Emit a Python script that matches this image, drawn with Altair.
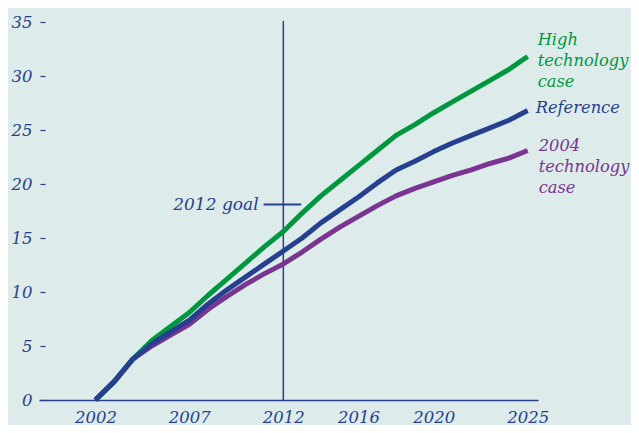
import altair as alt
import pandas as pd

years = list(range(2002, 2026))
high_tech = [0, 1.7, 3.8, 5.5, 6.8, 8.1, 9.7, 11.2, 12.7, 14.2, 15.6, 17.3, 18.9, 20.3, 21.7, 23.1, 24.5, 25.5, 26.6, 27.6, 28.6, 29.6, 30.6, 31.8]
reference = [0, 1.7, 3.8, 5.2, 6.3, 7.4, 8.9, 10.2, 11.4, 12.6, 13.8, 15.0, 16.4, 17.6, 18.8, 20.1, 21.3, 22.1, 23.0, 23.8, 24.5, 25.2, 25.9, 26.8]
tech2004 = [0, 1.7, 3.8, 5.0, 6.0, 7.0, 8.4, 9.6, 10.7, 11.7, 12.6, 13.7, 14.9, 16.0, 17.0, 18.0, 18.9, 19.6, 20.2, 20.8, 21.3, 21.9, 22.4, 23.1]
series_names = ["2004 technology case", "High technology case", "Reference"]
series_colors = ["#7a3492", "#00973f", "#263f8f"]
tick_years = [2002, 2007, 2012, 2016, 2020, 2025]
y_ticks = [0, 5, 10, 15, 20, 25, 30, 35]
goal_year = 2012
goal_value = 18.1
goal_label = "2012 goal"

BG = "#ddeceb"
TXT = "#263f8f"
FONT = "DejaVu Serif"

rows = []
for name, vals in zip(series_names, [tech2004, high_tech, reference]):
    for yr, v in zip(years, vals):
        rows.append({"year": yr, "value": v, "series": name})
df = pd.DataFrame(rows)

xs = alt.Scale(domain=[1999, 2025.55], nice=False, zero=False)
ys = alt.Scale(domain=[0, 35], nice=False)

lines = alt.Chart(df).mark_line(strokeWidth=5, strokeCap="butt", strokeJoin="round").encode(
    x=alt.X("year:Q", scale=xs,
            axis=alt.Axis(values=tick_years, format="d", title=None, grid=False,
                          ticks=False, domainColor=TXT, domainWidth=1.5,
                          labelFont=FONT, labelFontStyle="italic", labelFontSize=16.5,
                          labelColor=TXT, labelPadding=9)),
    y=alt.Y("value:Q", scale=ys,
            axis=alt.Axis(values=y_ticks, title=None, grid=False, domain=False,
                          tickColor=TXT, tickSize=5, tickWidth=1.2, offset=-6,
                          labelFont=FONT, labelFontStyle="italic", labelFontSize=16.5,
                          labelColor=TXT, labelPadding=8)),
    color=alt.Color("series:N", scale=alt.Scale(domain=series_names, range=series_colors), legend=None),
)

vline = alt.Chart(pd.DataFrame({"year": [goal_year], "top": [35.1], "bottom": [0]})).mark_rule(
    color=TXT, strokeWidth=1.5
).encode(x="year:Q", y="top:Q", y2="bottom:Q")

goal_df = pd.DataFrame({"x1": [goal_year - 1.05], "x2": [goal_year + 0.95], "value": [goal_value], "label": [goal_label]})
goal_rule = alt.Chart(goal_df).mark_rule(color=TXT, strokeWidth=2).encode(
    x="x1:Q", x2="x2:Q", y="value:Q")
goal_text = alt.Chart(goal_df).mark_text(
    align="right", baseline="middle", font=FONT, fontStyle="italic", fontSize=17, color=TXT, dx=-5
).encode(x="x1:Q", y="value:Q", text="label:N")

end_labels = [
    ("High\ntechnology\ncase", high_tech[-1], series_colors[1], 10, -17),
    ("Reference", reference[-1], series_colors[2], 8, -3),
    ("2004\ntechnology\ncase", tech2004[-1], series_colors[0], 11, -5),
]
label_layers = []
for txt, v, col, dx, dy in end_labels:
    label_layers.append(
        alt.Chart(pd.DataFrame({"year": [years[-1]], "value": [v], "label": [txt.split("\n")]})).mark_text(
            align="left", baseline="middle", font=FONT, fontStyle="italic", fontSize=16.3,
            color=col, dx=dx, dy=dy, lineHeight=21
        ).encode(x="year:Q", y="value:Q", text="label")
    )

chart = alt.layer(vline, goal_rule, goal_text, lines, *label_layers).properties(
    width=499, height=378,
    background=BG,
    autosize=alt.AutoSizeParams(type="none"),
    padding={"left": 31, "top": 14, "right": 93, "bottom": 25},
).configure_view(stroke=None)

chart.save("out.html", embed_options={"renderer": "svg", "actions": False})
